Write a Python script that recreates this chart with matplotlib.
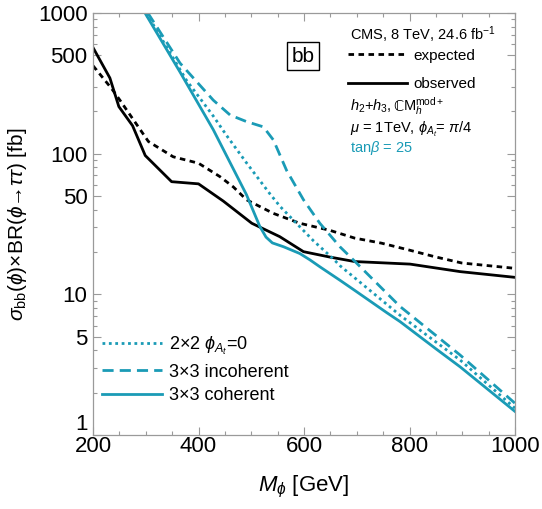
"""Recreate the bb -> phi -> tautau limit plot (CMS 8 TeV) with cyan theory curves."""
import matplotlib
matplotlib.use("Agg")
import matplotlib.pyplot as plt
from matplotlib.lines import Line2D
from matplotlib.ticker import FixedLocator, NullFormatter

plt.rcParams["font.family"] = ["Liberation Sans", "DejaVu Sans"]
plt.rcParams["mathtext.fontset"] = "custom"
plt.rcParams["mathtext.rm"] = "Liberation Sans"
plt.rcParams["mathtext.it"] = "Liberation Sans:italic"
plt.rcParams["mathtext.bf"] = "Liberation Sans:bold"
plt.rcParams["mathtext.fallback"] = "stixsans"

CYAN = "#1a9bb6"
GRID = "#9a9a9a"

# CMS limits
obs_m = [200, 232, 249, 275, 299, 349, 400, 447, 501, 554, 599, 649, 696, 801, 896, 1000]
obs_y = [568, 345, 216, 158, 97, 63.2, 61, 46, 32, 25.7, 20.1, 18.4, 17.1, 16.4, 14.5, 13.2]
exp_m = [200, 235, 251, 305, 352, 400, 441, 466, 491, 542, 592, 649, 696, 747, 798, 848, 899, 1000]
exp_y = [422, 291, 240, 122, 95, 85.5, 68.5, 58, 47, 37.6, 32, 28.5, 25.1, 23.1, 20.7, 18.5, 16.7, 15.3]

# model predictions
coh_m = [298.6, 365, 428, 491, 516, 528, 540, 561, 592, 611, 630, 668, 694, 757, 782, 850, 896, 1000]
coh_y = [1000, 380, 148, 51, 30.5, 25.5, 23.2, 21.8, 19.5, 17.6, 15.7, 12.6, 10.8, 7.4, 6.4, 4.1, 3.05, 1.47]
two_m = [301, 377, 428, 453, 491, 535, 555, 618, 656, 668, 782, 896, 1000]
two_y = [1000, 333, 185, 135, 86, 52, 42, 24, 17.8, 16.0, 7.1, 3.41, 1.55]
inc_m = [304, 365, 428, 460, 491, 523, 542, 567, 599, 630, 668, 694, 782, 896, 1000]
inc_y = [1000, 440, 240, 188, 169, 155, 125, 76, 47, 32, 21.8, 17.5, 8.2, 3.7, 1.68]

fig = plt.figure(figsize=(5.42, 5.09), dpi=100)
ax = fig.add_axes([0.1716, 0.1454, 0.7786, 0.8291])

ax.plot(exp_m, exp_y, color="black", lw=2.0, ls=(0, (2.0, 1.6)))
ax.plot(obs_m, obs_y, color="black", lw=2.0)
ax.plot(two_m, two_y, color=CYAN, lw=2.0, ls=(0, (1.0, 1.3)))
ax.plot(inc_m, inc_y, color=CYAN, lw=2.0, ls=(0, (4.0, 2.2)))
ax.plot(coh_m, coh_y, color=CYAN, lw=2.0)

ax.set_yscale("log")
ax.set_xlim(200, 1000)
ax.set_ylim(1, 1000)

ax.xaxis.set_major_locator(FixedLocator([200, 400, 600, 800, 1000]))
ax.xaxis.set_minor_locator(FixedLocator(range(250, 1000, 50)))
ax.yaxis.set_major_locator(FixedLocator([1, 5, 10, 50, 100, 500, 1000]))
ax.yaxis.set_minor_locator(FixedLocator(
    [k * 10 ** d for d in range(3) for k in range(2, 10) if k != 5]))
ax.yaxis.set_minor_formatter(NullFormatter())
ax.set_yticklabels(["1", "5", "10", "50", "100", "500", "1000"])
ax.set_xticklabels(["200", "400", "600", "800", "1000"])

ax.tick_params(which="both", direction="in", top=True, right=True,
               color=GRID, width=0.8, labelsize=16)
ax.tick_params(axis="x", pad=1)
ax.tick_params(axis="y", pad=4)
ax.tick_params(which="major", length=6)
ax.tick_params(which="minor", length=3)
for s in ax.spines.values():
    s.set_color(GRID)
    s.set_linewidth(0.9)

# the "1" label sits above the corner so it does not hit "200"
ax.yaxis.get_major_ticks()[0].label1.set_verticalalignment("bottom")

ax.set_xlabel(r"$M_\phi$ [GeV]", fontsize=16, labelpad=12)
ax.set_ylabel(r"$\sigma_{\rm bb}(\phi)$×BR($\phi$→$\tau\tau$) [fb]",
              fontsize=15, labelpad=6)

# cyan legend, lower left
cyan_handles = [
    Line2D([], [], color=CYAN, lw=2.0, ls=(0, (1.0, 1.3))),
    Line2D([], [], color=CYAN, lw=2.0, ls=(0, (4.0, 2.2))),
    Line2D([], [], color=CYAN, lw=2.0),
]
leg1 = ax.legend(cyan_handles,
                 [r"2×2 $\phi_{A_t}$=0", "3×3 incoherent", "3×3 coherent"],
                 loc="upper left", bbox_to_anchor=(0.005, 0.255),
                 frameon=False, fontsize=13, handlelength=3.3,
                 handletextpad=0.4, labelspacing=0.38, borderaxespad=0)
ax.add_artist(leg1)

# black legend, upper right
black_handles = [
    Line2D([], [], color="black", lw=2.0, ls=(0, (2.0, 1.6))),
    Line2D([], [], color="black", lw=2.0),
]
ax.legend(black_handles, ["expected", "observed"], loc="upper left",
          bbox_to_anchor=(0.59, 0.93), frameon=False, fontsize=11,
          handlelength=3.85, handletextpad=0.45, labelspacing=0.95,
          borderaxespad=0)

TX = 350 / 542
fig.text(TX, 1 - 35 / 509, r"CMS, 8 TeV, 24.6 fb$^{-1}$", fontsize=10.5,
         va="center", ha="left")

# model line: the double-struck C is drawn in DejaVu Sans, the rest follows it
row_y = 1 - 111 / 509
renderer = fig.canvas.get_renderer()
t1 = fig.text(TX, row_y, r"$h_2$+$h_3$, ", fontsize=10.5, va="baseline", ha="left")
x1 = fig.transFigure.inverted().transform(
    (t1.get_window_extent(renderer).x1, 0))[0]
t2 = fig.text(x1, row_y, "ℂ", fontsize=10.5, va="baseline", ha="left",
              family="DejaVu Sans")
x2 = fig.transFigure.inverted().transform(
    (t2.get_window_extent(renderer).x1, 0))[0]
fig.text(x2, row_y, r"M$_h^{\rm mod+}$", fontsize=10.5, va="baseline", ha="left")

fig.text(TX, 1 - 129 / 509,
         r"$\mu$ = 1TeV, $\phi_{A_t}$= $\pi$/4", fontsize=10.5, va="center", ha="left")
fig.text(TX, 1 - 148 / 509, r"tan$\beta$ = 25", fontsize=10.5,
         va="center", ha="left", color=CYAN)

fig.text(303 / 542, 1 - 56 / 509, "bb", fontsize=15, ha="center", va="center",
         bbox=dict(boxstyle="square,pad=0.2", facecolor="white",
                   edgecolor="black", linewidth=1.0))

fig.savefig("out.png", dpi=100)
